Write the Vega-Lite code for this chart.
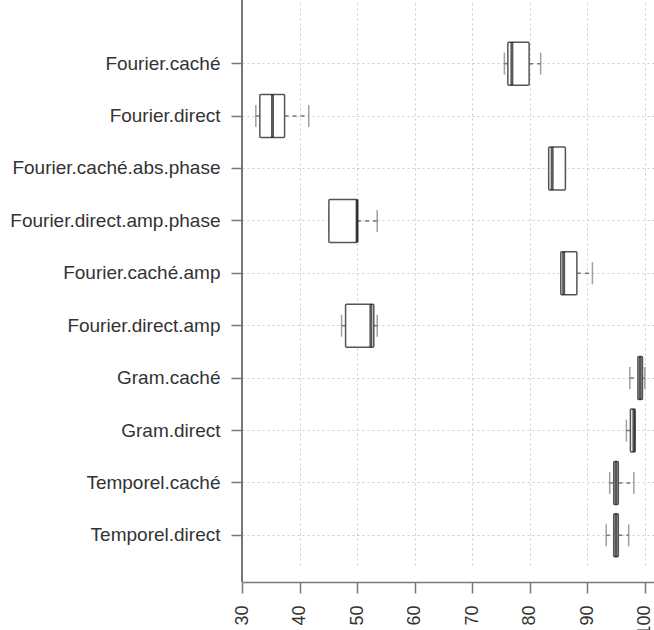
{
  "$schema": "https://vega.github.io/schema/vega-lite/v6.json",
  "width": 412,
  "height": 582,
  "autosize": "none",
  "padding": {"left": 242, "top": 0, "right": 0, "bottom": 48},
  "background": "white",
  "config": {
    "view": {"stroke": null},
    "font": "Liberation Sans",
    "axis": {
      "labelFont": "Liberation Sans",
      "labelFontSize": 18,
      "labelColor": "#333333",
      "labelLimit": 0,
      "domainColor": "#777777",
      "domainWidth": 1.5,
      "tickColor": "#777777",
      "tickWidth": 1.5,
      "tickSize": 11,
      "grid": true,
      "gridColor": "#cccccc",
      "gridDash": [2, 3],
      "gridWidth": 1,
      "title": null
    }
  },
  "data": {
    "values": [
      {"name": "Fourier.caché", "min": 75.6, "q1": 76.2, "median": 76.9, "q3": 79.9, "max": 81.9},
      {"name": "Fourier.direct", "min": 32.4, "q1": 33.1, "median": 35.3, "q3": 37.4, "max": 41.6},
      {"name": "Fourier.caché.abs.phase", "min": 83.3, "q1": 83.3, "median": 83.9, "q3": 86.2, "max": 86.2},
      {"name": "Fourier.direct.amp.phase", "min": 45.1, "q1": 45.1, "median": 50.0, "q3": 50.0, "max": 53.5},
      {"name": "Fourier.caché.amp", "min": 85.4, "q1": 85.4, "median": 85.9, "q3": 88.2, "max": 90.9},
      {"name": "Fourier.direct.amp", "min": 47.3, "q1": 48.0, "median": 52.4, "q3": 52.9, "max": 53.5},
      {"name": "Gram.caché", "min": 97.4, "q1": 98.8, "median": 99.2, "q3": 99.6, "max": 100.0},
      {"name": "Gram.direct", "min": 96.8, "q1": 97.5, "median": 98.1, "q3": 98.3, "max": 98.3},
      {"name": "Temporel.caché", "min": 93.9, "q1": 94.6, "median": 95.0, "q3": 95.4, "max": 98.1},
      {"name": "Temporel.direct", "min": 93.3, "q1": 94.6, "median": 95.0, "q3": 95.4, "max": 97.2}
    ]
  },
  "encoding": {
    "y": {
      "field": "name",
      "type": "nominal",
      "sort": null,
      "scale": {"range": [17, 582], "paddingInner": 0.2, "paddingOuter": 0.49},
      "axis": {"labelPadding": 11, "labelFontSize": 19, "domain": false}
    }
  },
  "layer": [
    {
      "mark": {"type": "rule", "color": "#777777", "strokeWidth": 1.5, "strokeDash": [4, 4]},
      "encoding": {
        "x": {"field": "min", "type": "quantitative", "scale": {"domain": [30, 101.6], "nice": false, "zero": false},
          "axis": {"values": [30, 40, 50, 60, 70, 80, 90, 100], "labelAngle": 270, "labelAlign": "right", "labelBaseline": "middle", "labelPadding": 12}},
        "x2": {"field": "q1"}
      }
    },
    {
      "mark": {"type": "rule", "color": "#777777", "strokeWidth": 1.5, "strokeDash": [4, 4]},
      "encoding": {
        "x": {"field": "q3", "type": "quantitative"},
        "x2": {"field": "max"}
      }
    },
    {
      "mark": {"type": "tick", "orient": "vertical", "color": "#777777", "thickness": 1.5, "size": 22},
      "encoding": {"x": {"field": "min", "type": "quantitative"}}
    },
    {
      "mark": {"type": "tick", "orient": "vertical", "color": "#777777", "thickness": 1.5, "size": 22},
      "encoding": {"x": {"field": "max", "type": "quantitative"}}
    },
    {
      "mark": {"type": "bar", "fill": "white", "stroke": "#555555", "strokeWidth": 1.5, "size": 43, "cornerRadius": 1},
      "encoding": {
        "x": {"field": "q1", "type": "quantitative"},
        "x2": {"field": "q3"}
      }
    },
    {
      "mark": {"type": "tick", "orient": "vertical", "color": "#111111", "thickness": 3, "size": 43},
      "encoding": {"x": {"field": "median", "type": "quantitative"}}
    },
    {
      "mark": {"type": "rule", "color": "#777777", "strokeWidth": 1.5},
      "encoding": {"x": {"datum": 30, "type": "quantitative"}, "y": null}
    }
  ]
}
